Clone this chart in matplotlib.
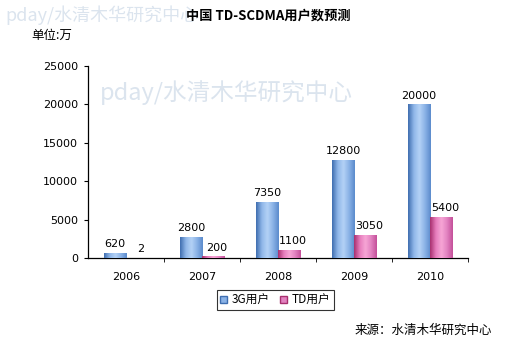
import numpy as np
import matplotlib
matplotlib.use("Agg")
import matplotlib.pyplot as plt
from matplotlib.colors import LinearSegmentedColormap
from matplotlib.patches import Patch

plt.rcParams['font.family'] = ['Noto Sans CJK SC', 'DejaVu Sans']

years = ["2006", "2007", "2008", "2009", "2010"]
users_3g = [620, 2800, 7350, 12800, 20000]
users_td = [2, 200, 1100, 3050, 5400]
series_names = ["3G用户", "TD用户"]

fig = plt.figure(figsize=(5.26, 3.44), dpi=100)
fig.patch.set_facecolor("white")
ax = fig.add_axes([0.167, 0.25, 0.723, 0.558], zorder=1)
ax.set_facecolor("none")

# faint site watermark, kept behind the axes
for (tx, ty, fs) in ((0.01, 0.94, 13), (0.19, 0.71, 17)):
    fig.text(tx, ty, "pday/水清木华研究中心", fontsize=fs, color="#dbe4ee",
             style="italic", zorder=0)

# column shading, dark edges with a light stripe left of centre
blue_cm = LinearSegmentedColormap.from_list(
    "blue", ["#3f6eb0", "#8fb6e8", "#b4d2f6", "#8ab2e6", "#5b8bcc"])
pink_cm = LinearSegmentedColormap.from_list(
    "pink", ["#a8306e", "#e67cbc", "#f7a6d6", "#e282c0", "#c4509a"])
grad = np.linspace(0, 1, 64).reshape(1, -1)

x = np.arange(len(years))
w = 0.29
bars_3g = ax.bar(x - w / 2, users_3g, w, color="#8ab2e6", zorder=2)
bars_td = ax.bar(x + w / 2, users_td, w, color="#e282c0", zorder=2)

for bars, cm in ((bars_3g, blue_cm), (bars_td, pink_cm)):
    for b in bars:
        x0, y0 = b.get_x(), b.get_y()
        im = ax.imshow(grad, extent=[x0, x0 + b.get_width(), y0, y0 + b.get_height()],
                       aspect="auto", cmap=cm, zorder=3, interpolation="bicubic")
        im.set_clip_path(b)

for xi, v in zip(x, users_3g):
    ax.text(xi - w / 2, v + 500, str(v), ha="center", va="bottom",
            fontsize=8, family="DejaVu Sans", zorder=4)
for xi, v in zip(x, users_td):
    ax.text(xi + w / 2 + 0.05, v + 500, str(v), ha="center", va="bottom",
            fontsize=8, family="DejaVu Sans", zorder=4)

ax.set_xlim(-0.5, len(years) - 0.5)
ax.set_ylim(0, 25000)
ax.set_yticks(range(0, 25001, 5000))
ax.set_yticklabels([str(t) for t in range(0, 25001, 5000)],
                   fontsize=8, family="DejaVu Sans")
ax.set_xticks(x)
ax.set_xticklabels(years, fontsize=8, family="DejaVu Sans")
ax.tick_params(axis="x", length=0, pad=10)
ax.set_xticks(np.arange(0.5, len(years), 1), minor=True)
ax.tick_params(axis="x", which="minor", length=3, direction="out")
ax.tick_params(axis="y", length=3, direction="out", pad=4)
for s in ("top", "right"):
    ax.spines[s].set_visible(False)
for s in ("left", "bottom"):
    ax.spines[s].set_linewidth(0.9)

fig.text(0.51, 0.955, "中国 TD-SCDMA用户数预测", ha="center", va="center",
         fontsize=9.5, fontweight="bold")
fig.text(0.06, 0.897, "单位:万", ha="left", va="center", fontsize=9)

handles = [Patch(facecolor="#8ab2e6", edgecolor="#3f6eb0"),
           Patch(facecolor="#e282c0", edgecolor="#a8306e")]
leg = fig.legend(handles, series_names, loc="center", bbox_to_anchor=(0.523, 0.128),
                 ncol=2, fontsize=8.5, frameon=True, fancybox=False,
                 handlelength=0.6, handleheight=0.6, handletextpad=0.4,
                 columnspacing=0.8, borderpad=0.3)
leg.get_frame().set_edgecolor("black")
leg.get_frame().set_linewidth(0.8)

fig.text(0.935, 0.04, "来源：水清木华研究中心", ha="right", va="center", fontsize=9)

fig.savefig("out.png", dpi=100)
